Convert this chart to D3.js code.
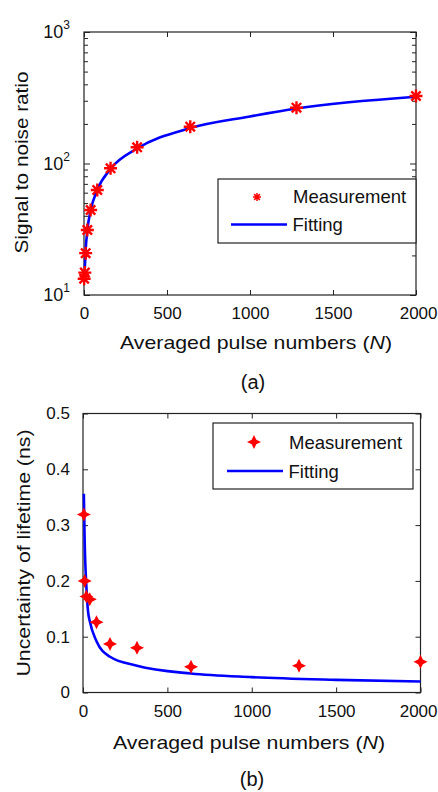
<!doctype html>
<html>
<head>
<meta http-equiv="Content-type" content="text/html; charset=utf-8"/>
<script src="https://d3js.org/d3.v7.min.js"></script>
<style>
  body { margin: 0; background: #fff; }
  svg { display: block; }
  text { font-family: "Liberation Sans", Arial, Helvetica, sans-serif; fill: #111; }
  .tick line { stroke: #222; }
</style>
</head>
<body>
<svg id="fig" width="438" height="792"></svg>
<script>
// ---- data (a): signal to noise ratio
var snrN = [1, 5, 10, 20, 40, 80, 160, 320, 640, 1280, 2000];
var snrMeas = [13.3, 14.8, 20.8, 31.2, 44.3, 62.9, 91.9, 132.8, 190.5, 265.7, 326];
var snrFitN = [5, 10, 20, 40, 80, 160, 320, 640, 1000, 1280, 2000];
var snrFit = [16, 22, 31, 44, 63, 91, 130, 186, 228, 262, 322];

// ---- data (b): uncertainty of lifetime
var uncN = [5, 10, 20, 40, 80, 160, 320, 640, 1280, 2000];
var uncMeas = [0.319, 0.200, 0.172, 0.167, 0.126, 0.087, 0.080, 0.046, 0.048, 0.055];
var uncFitN = [5, 10, 20, 30, 40, 80, 160, 320, 640, 1000, 1500, 2000];
var uncFit = [0.356, 0.27, 0.19, 0.145, 0.128, 0.092, 0.064, 0.048, 0.034, 0.0275, 0.0227, 0.0196];

var xTicks = [0, 500, 1000, 1500, 2000];
var logTicks = [10, 100, 1000];
var linTicks = [0, 0.1, 0.2, 0.3, 0.4, 0.5];

var svg = d3.select("#fig");
var red = "#ff0000", blue = "#0000ff";

function frame(g, x, y) {
  g.append("rect")
    .attr("x", x.range()[0]).attr("y", y.range()[1])
    .attr("width", x.range()[1] - x.range()[0])
    .attr("height", y.range()[0] - y.range()[1])
    .attr("fill", "none").attr("stroke", "#222").attr("stroke-width", 1.2);
}

function xAxes(g, x, y) {
  var b = g.append("g").attr("transform", "translate(0," + y.range()[0] + ")")
    .call(d3.axisBottom(x).tickValues(xTicks).tickSizeInner(-5).tickSizeOuter(0).tickPadding(12).tickFormat(d3.format("d")));
  b.select(".domain").remove();
  b.selectAll("text").style("font-size", "17px");
  // keep the last label inside the page
  b.selectAll(".tick").filter(function(d) { return d === 2000; }).select("text")
    .attr("text-anchor", "end").attr("x", 437 - x(2000));
  var t = g.append("g").attr("transform", "translate(0," + y.range()[1] + ")")
    .call(d3.axisTop(x).tickValues(xTicks).tickSizeInner(-5).tickSizeOuter(0).tickFormat(""));
  t.select(".domain").remove();
}

function xTitle(g, cx, by) {
  var t = g.append("text").attr("x", cx).attr("y", by)
    .attr("text-anchor", "middle").style("font-size", "19px")
    .attr("textLength", 272).attr("lengthAdjust", "spacingAndGlyphs");
  t.append("tspan").text("Averaged pulse numbers (");
  t.append("tspan").style("font-style", "italic").text("N");
  t.append("tspan").text(")");
}

function yTitle(g, bx, cy, label, len) {
  g.append("text").attr("transform", "translate(" + bx + "," + cy + ") rotate(-90)")
    .attr("text-anchor", "middle").style("font-size", "18.5px")
    .attr("textLength", len).attr("lengthAdjust", "spacingAndGlyphs")
    .text(label);
}

function starPath(r, ri) {
  var p = [];
  for (var i = 0; i < 8; i++) {
    var a = i * Math.PI / 4 - Math.PI / 2;
    var rr = i % 2 === 0 ? r : ri;
    p.push([rr * Math.cos(a), rr * Math.sin(a)]);
  }
  return "M" + p.map(function(d) { return d[0].toFixed(2) + "," + d[1].toFixed(2); }).join("L") + "Z";
}

function asterisk(sel, r, w) {
  var d = r * 0.72;
  sel.append("path")
    .attr("d", "M0," + (-r) + "V" + r + "M" + (-r) + ",0H" + r +
      "M" + (-d) + "," + (-d) + "L" + d + "," + d + "M" + (-d) + "," + d + "L" + d + "," + (-d))
    .attr("stroke", red).attr("stroke-width", w).attr("fill", "none");
}

// ================= (a)
var ga = svg.append("g");
var xa = d3.scaleLinear().domain([0, 2000]).range([84, 416]);
var ya = d3.scaleLog().domain([10, 1000]).range([295, 32]);

var minor = [];
[10, 100].forEach(function(dec) { for (var k = 1; k <= 10; k++) minor.push(dec * k); });
minor = minor.filter(function(v, i, a) { return a.indexOf(v) === i; });

var la = ga.append("g").attr("transform", "translate(" + xa.range()[0] + ",0)")
  .call(d3.axisLeft(ya).tickValues(minor).tickSizeOuter(0).tickSizeInner(-4).tickFormat(""));
la.select(".domain").remove();
la.selectAll(".tick line").attr("x2", function(d) { return logTicks.indexOf(d) >= 0 ? 6 : 4; });
var ra = ga.append("g").attr("transform", "translate(" + xa.range()[1] + ",0)")
  .call(d3.axisRight(ya).tickValues(minor).tickSizeOuter(0).tickSizeInner(-4).tickFormat(""));
ra.select(".domain").remove();
ra.selectAll(".tick line").attr("x2", function(d) { return logTicks.indexOf(d) >= 0 ? -6 : -4; });

logTicks.forEach(function(v) {
  var t = ga.append("text").attr("x", 70).attr("y", ya(v) + 6)
    .attr("text-anchor", "end").style("font-size", "18px");
  t.append("tspan").text("10");
  t.append("tspan").attr("dy", -9).style("font-size", "12px").text(Math.round(Math.log10(v)));
});

xAxes(ga, xa, ya);
frame(ga, xa, ya);

ga.append("path")
  .datum(d3.zip(snrFitN, snrFit))
  .attr("fill", "none").attr("stroke", blue).attr("stroke-width", 2.6)
  .attr("d", d3.line().x(function(d) { return xa(d[0]); }).y(function(d) { return ya(d[1]); })
    .curve(d3.curveMonotoneX));

ga.selectAll(".ma").data(d3.zip(snrN, snrMeas)).enter().append("g")
  .attr("class", "ma")
  .attr("transform", function(d) { return "translate(" + xa(d[0]) + "," + ya(d[1]) + ")"; })
  .each(function() { asterisk(d3.select(this), 6.5, 2.4); });

// legend (a)
var lga = ga.append("g");
lga.append("rect").attr("x", 218).attr("y", 179).attr("width", 198).attr("height", 64)
  .attr("fill", "#fff").attr("stroke", "#222").attr("stroke-width", 1.2);
lga.append("g").attr("transform", "translate(257,197)").call(function(s) { asterisk(s, 4, 1.5); });
lga.append("text").attr("x", 293).attr("y", 203).style("font-size", "18.5px").text("Measurement");
lga.append("line").attr("x1", 231).attr("x2", 287).attr("y1", 224.5).attr("y2", 224.5)
  .attr("stroke", blue).attr("stroke-width", 2.6);
lga.append("text").attr("x", 292.5).attr("y", 231).style("font-size", "18.5px").text("Fitting");

yTitle(ga, 28, 162.5, "Signal to noise ratio", 182);
xTitle(ga, 256, 348.5);
ga.append("text").attr("x", 253).attr("y", 389).attr("text-anchor", "middle")
  .style("font-size", "20px").text("(a)");

// ================= (b)
var gb = svg.append("g");
var xb = d3.scaleLinear().domain([0, 2000]).range([83, 420.5]);
var yb = d3.scaleLinear().domain([0, 0.5]).range([692.5, 413.5]);

var lb = gb.append("g").attr("transform", "translate(" + xb.range()[0] + ",0)")
  .call(d3.axisLeft(yb).tickValues(linTicks).tickSizeOuter(0).tickSizeInner(-5).tickPadding(13)
    .tickFormat(function(d) { return d === 0 ? "0" : d3.format(".1f")(d); }));
lb.select(".domain").remove();
lb.selectAll("text").style("font-size", "17px");
var rb = gb.append("g").attr("transform", "translate(" + xb.range()[1] + ",0)")
  .call(d3.axisRight(yb).tickValues(linTicks).tickSizeOuter(0).tickSizeInner(-5).tickFormat(""));
rb.select(".domain").remove();

xAxes(gb, xb, yb);
frame(gb, xb, yb);

gb.append("path")
  .datum(d3.zip(uncFitN, uncFit))
  .attr("fill", "none").attr("stroke", blue).attr("stroke-width", 2.6)
  .attr("d", d3.line().x(function(d) { return xb(d[0]); }).y(function(d) { return yb(d[1]); })
    .curve(d3.curveMonotoneX));

gb.selectAll(".mb").data(d3.zip(uncN, uncMeas)).enter().append("path")
  .attr("class", "mb")
  .attr("transform", function(d) { return "translate(" + xb(d[0]) + "," + yb(d[1]) + ")"; })
  .attr("d", starPath(7, 3.3)).attr("fill", red);

// legend (b)
var lgb = gb.append("g");
lgb.append("rect").attr("x", 213).attr("y", 423).attr("width", 200).attr("height", 66)
  .attr("fill", "#fff").attr("stroke", "#222").attr("stroke-width", 1.2);
lgb.append("path").attr("transform", "translate(254,442)").attr("d", starPath(7, 3.3)).attr("fill", red);
lgb.append("text").attr("x", 289).attr("y", 449).style("font-size", "18.5px").text("Measurement");
lgb.append("line").attr("x1", 227).attr("x2", 283).attr("y1", 471).attr("y2", 471)
  .attr("stroke", blue).attr("stroke-width", 2.6);
lgb.append("text").attr("x", 288.5).attr("y", 478).style("font-size", "18.5px").text("Fitting");

yTitle(gb, 30, 553, "Uncertainty of lifetime (ns)", 247);
xTitle(gb, 249, 748.5);
gb.append("text").attr("x", 252).attr("y", 786).attr("text-anchor", "middle")
  .style("font-size", "20px").text("(b)");
</script>
</body>
</html>
